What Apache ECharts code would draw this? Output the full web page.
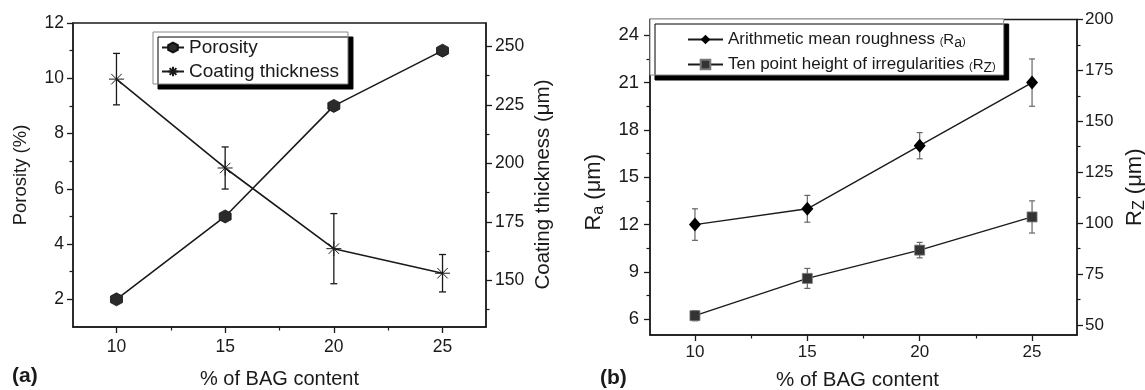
<!DOCTYPE html>
<html>
<head>
<meta charset="utf-8">
<script src="https://cdn.jsdelivr.net/npm/echarts@6/dist/echarts.min.js"></script>
<style>
  html, body { margin: 0; background: #fff; }
  #chart { width: 1145px; height: 390px; }
</style>
</head>
<body>
<div id="chart"></div>
<script>
// values
const bagContent = [10, 15, 20, 25]
const porosity = [2, 5, 9, 11]
const thickness = [236, 198, 163.5, 153]
const thicknessErr = [11, 9, 15, 8]
const ra = [12, 13, 17, 21]
const raErr = [1, 0.85, 0.83, 1.5]
const rz = [54.5, 72.8, 86.7, 103]
const rzErr = [2.5, 4.9, 3.8, 7.9]

// tick positions
const xTicks = [10, 15, 20, 25]
const xMinor = [12.5, 17.5, 22.5]
const porosityTicks = [2, 4, 6, 8, 10, 12]
const porosityMinor = [3, 5, 7, 9, 11]
const thicknessTicks = [150, 175, 200, 225, 250]
const thicknessMinor = [137.5, 162.5, 187.5, 212.5, 237.5]
const raTicks = [6, 9, 12, 15, 18, 21, 24]
const raMinor = [7.5, 10.5, 13.5, 16.5, 19.5, 22.5]
const rzTicks = [50, 75, 100, 125, 150, 175, 200]
const rzMinor = [62.5, 87.5, 112.5, 137.5, 162.5, 187.5]

const FONT = '"Liberation Sans", Arial, sans-serif'
const INK = '#1a1a1a'

const pts = (ys) => bagContent.map((x, i) => [x, ys[i]])
const errPts = (ys, es) => bagContent.map((x, i) => [x, ys[i] - es[i], ys[i] + es[i]])

function axis(o) {
  return {
    type: 'value', gridIndex: o.grid, position: o.pos, min: o.min, max: o.max,
    splitLine: { show: false },
    axisLine: { show: true, onZero: false, lineStyle: { color: INK, width: 1.5 } },
    axisTick: { show: true, customValues: o.ticks, length: 6, lineStyle: { color: INK, width: 1.3 } },
    axisLabel: { customValues: o.ticks, margin: o.margin, color: INK, fontSize: o.fs || 17, fontFamily: FONT },
    name: o.name, nameLocation: 'middle', nameGap: o.gap, nameRotate: o.rotate,
    nameTextStyle: Object.assign({ color: INK, fontSize: 19, fontFamily: FONT }, o.nameStyle || {})
  }
}

function minorAxis(o) {
  return {
    type: 'value', gridIndex: o.grid, position: o.pos, min: o.min, max: o.max,
    splitLine: { show: false },
    axisLine: { show: false, onZero: false },
    axisTick: { show: true, customValues: o.ticks, length: 3.5, lineStyle: { color: INK, width: 1.2 } },
    axisLabel: { show: false }
  }
}

function errorBars(color, cap, width) {
  return function (params, api) {
    const x = api.value(0)
    const lo = api.coord([x, api.value(1)])
    const hi = api.coord([x, api.value(2)])
    const style = { stroke: color, lineWidth: width }
    return {
      type: 'group',
      children: [
        { type: 'line', shape: { x1: lo[0], y1: lo[1], x2: hi[0], y2: hi[1] }, style },
        { type: 'line', shape: { x1: lo[0] - cap, y1: lo[1], x2: lo[0] + cap, y2: lo[1] }, style },
        { type: 'line', shape: { x1: hi[0] - cap, y1: hi[1], x2: hi[0] + cap, y2: hi[1] }, style }
      ]
    }
  }
}

const hexagon = 'path://M0,-10L8.66,-5L8.66,5L0,10L-8.66,5L-8.66,-5Z'
const asterisk = 'path://M-10,0L10,0M0,-10L0,10M-7,-7L7,7M-7,7L7,-7'

const subRich = {
  t: { fontSize: 17, fontFamily: FONT, color: INK },
  p: { fontSize: 11, fontFamily: FONT, color: INK, padding: [4, 0, 0, 0] },
  r: { fontSize: 15, fontFamily: FONT, color: INK },
  s: { fontSize: 14, fontFamily: FONT, color: INK, padding: [7, 0, 0, 0] }
}
const axisRich = {
  t: { fontSize: 22, fontFamily: FONT, color: INK },
  s: { fontSize: 16, fontFamily: FONT, color: INK, padding: [10, 0, 0, 0] }
}

const chart = echarts.init(document.getElementById('chart'))

chart.setOption({
  animation: false,
  backgroundColor: '#fff',
  title: [
    { text: '(a)', left: 12, top: 366, padding: 0, textStyle: { fontSize: 21, fontWeight: 'bold', fontFamily: FONT, color: INK } },
    { text: '(b)', left: 600, top: 368, padding: 0, textStyle: { fontSize: 21, fontWeight: 'bold', fontFamily: FONT, color: INK } }
  ],
  grid: [
    { left: 73, top: 23, width: 413, height: 304, show: true, borderColor: INK, borderWidth: 1.3, outerBoundsMode: 'none' },
    { left: 650, top: 19.5, width: 427, height: 315.5, show: true, borderColor: INK, borderWidth: 1.3, outerBoundsMode: 'none' }
  ],
  legend: [
    {
      data: ['Porosity', 'Coating thickness'],
      orient: 'vertical', left: 153, top: 32,
      padding: [6, 9, 3, 8], itemGap: 5, itemWidth: 22, itemHeight: 12,
      backgroundColor: '#fff', borderColor: '#888', borderWidth: 1,
      shadowColor: '#000', shadowOffsetX: 5, shadowOffsetY: 5, shadowBlur: 0,
      textStyle: { fontSize: 19, fontFamily: FONT, color: INK }
    },
    {
      data: ['Ra', 'Rz'],
      orient: 'vertical', left: 650, top: 19,
      padding: [12, 8, 0, 37], itemGap: 6, itemWidth: 35, itemHeight: 12,
      backgroundColor: '#fff', borderColor: '#888', borderWidth: 1,
      shadowColor: '#000', shadowOffsetX: 5, shadowOffsetY: 5, shadowBlur: 0,
      formatter: (name) => name === 'Ra'
        ? '{t|Arithmetic mean roughness }{p|(}{r|R}{s|a}{p|)}'
        : '{t|Ten point height of irregularities }{p|(}{r|R}{s|Z}{p|)}',
      textStyle: { fontSize: 17, fontFamily: FONT, color: INK, rich: subRich }
    }
  ],
  xAxis: [
    axis({ grid: 0, pos: 'bottom', min: 8, max: 27, ticks: xTicks, margin: 11, fs: 17.5,
      name: '% of BAG content', gap: 42, nameStyle: { fontSize: 20 } }),
    minorAxis({ grid: 0, pos: 'bottom', min: 8, max: 27, ticks: xMinor }),
    axis({ grid: 1, pos: 'bottom', min: 8, max: 27, ticks: xTicks, margin: 9,
      name: '% of BAG content', gap: 35, nameStyle: { fontSize: 20.5, padding: [0, 12, 0, 0] } }),
    minorAxis({ grid: 1, pos: 'bottom', min: 8, max: 27, ticks: xMinor })
  ],
  yAxis: [
    axis({ grid: 0, pos: 'left', min: 1, max: 12, ticks: porosityTicks, margin: 9, fs: 17.5,
      name: 'Porosity (%)', gap: 43, rotate: 90, nameStyle: { fontSize: 18.5 } }),
    minorAxis({ grid: 0, pos: 'left', min: 1, max: 12, ticks: porosityMinor }),
    axis({ grid: 0, pos: 'right', min: 130, max: 260, ticks: thicknessTicks, margin: 9, fs: 17.5,
      name: 'Coating thickness (\u03bcm)', gap: 47, rotate: 90, nameStyle: { fontSize: 20.5, padding: [0, 19, 0, 0] } }),
    minorAxis({ grid: 0, pos: 'right', min: 130, max: 260, ticks: thicknessMinor }),
    axis({ grid: 1, pos: 'left', min: 5, max: 25, ticks: raTicks, margin: 11, fs: 18.5,
      name: '{t|R}{s|a}{t| (\u03bcm)}', gap: 43, rotate: 90,
      nameStyle: { padding: [0, 30, 0, 0], rich: axisRich } }),
    minorAxis({ grid: 1, pos: 'left', min: 5, max: 25, ticks: raMinor }),
    axis({ grid: 1, pos: 'right', min: 45, max: 200, ticks: rzTicks, margin: 8,
      name: '{t|R}{s|Z}{t| (\u03bcm)}', gap: 45, rotate: 90,
      nameStyle: { padding: [0, 20, 0, 0], rich: axisRich } }),
    minorAxis({ grid: 1, pos: 'right', min: 45, max: 200, ticks: rzMinor })
  ],
  series: [
    {
      name: 'Porosity', type: 'line', xAxisIndex: 0, yAxisIndex: 0, z: 3,
      data: pts(porosity), symbol: hexagon, symbolSize: [12, 13],
      itemStyle: { color: '#2b2b2b', borderColor: '#111', borderWidth: 0.8 },
      lineStyle: { color: INK, width: 1.6 }
    },
    {
      name: 'Coating thickness', type: 'line', xAxisIndex: 0, yAxisIndex: 2, z: 3,
      data: pts(thickness), symbol: asterisk, symbolSize: 15,
      itemStyle: { color: '#fff', borderColor: INK, borderWidth: 1 },
      lineStyle: { color: INK, width: 1.6 }
    },
    {
      type: 'custom', xAxisIndex: 0, yAxisIndex: 2, z: 2,
      renderItem: errorBars(INK, 3.5, 1.3), data: errPts(thickness, thicknessErr)
    },
    {
      name: 'Ra', type: 'line', xAxisIndex: 2, yAxisIndex: 4, z: 3,
      data: pts(ra), symbol: 'diamond', symbolSize: [12, 14],
      itemStyle: { color: '#000' },
      lineStyle: { color: INK, width: 1.4 }
    },
    {
      type: 'custom', xAxisIndex: 2, yAxisIndex: 4, z: 2,
      renderItem: errorBars('#666', 3, 1.2), data: errPts(ra, raErr)
    },
    {
      name: 'Rz', type: 'line', xAxisIndex: 2, yAxisIndex: 6, z: 3,
      data: pts(rz), symbol: 'rect', symbolSize: 10,
      itemStyle: { color: '#333', borderColor: '#777', borderWidth: 0.8 },
      lineStyle: { color: INK, width: 1.4 }
    },
    {
      type: 'custom', xAxisIndex: 2, yAxisIndex: 6, z: 2,
      renderItem: errorBars('#666', 3, 1.2), data: errPts(rz, rzErr)
    }
  ]
})
</script>
</body>
</html>
